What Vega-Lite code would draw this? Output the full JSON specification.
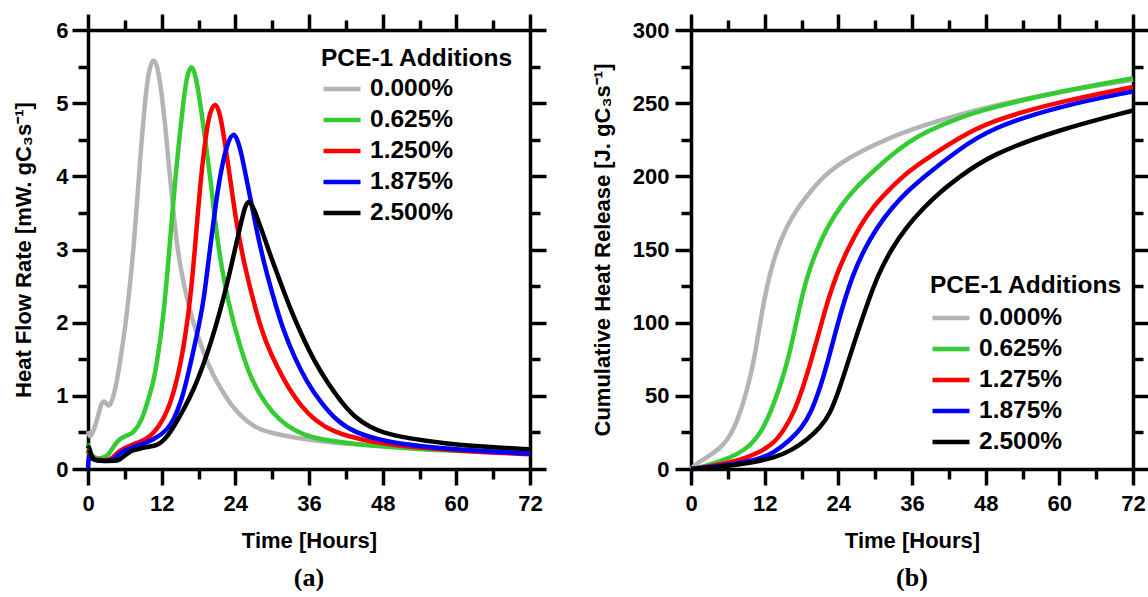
{
  "$schema": "https://vega.github.io/schema/vega-lite/v6.json",
  "padding": {"left": 12, "top": 12, "right": 0, "bottom": 0},
  "config": {
    "font": "Liberation Sans",
    "view": {"stroke": null},
    "axis": {
      "grid": false,
      "domainColor": "#000",
      "domainWidth": 3.5,
      "tickColor": "#000",
      "tickWidth": 3.5,
      "labelColor": "#000",
      "titleColor": "#000",
      "labelFont": "Liberation Sans",
      "labelFontSize": 22,
      "labelFontWeight": "bold",
      "titleFont": "Liberation Sans",
      "titleFontSize": 22,
      "titleFontWeight": "bold",
      "labelFlush": false,
      "labelOverlap": false,
      "labelBound": false
    },
    "legend": {
      "titleFont": "Liberation Sans",
      "labelFont": "Liberation Sans",
      "titleFontSize": 24.5,
      "labelFontSize": 24.5,
      "titleFontWeight": "bold",
      "labelFontWeight": "bold",
      "titleColor": "#000",
      "labelColor": "#000",
      "titleLimit": 400,
      "symbolType": "stroke",
      "symbolSize": 1369,
      "symbolStrokeWidth": 4.5,
      "clipHeight": 31,
      "rowPadding": 0,
      "titlePadding": 2,
      "labelOffset": 7,
      "padding": 0
    }
  },
  "datasets": {
    "hf": [
      {"s":"0.000%","t":0,"v":0.52},{"s":"0.000%","t":0.3,"v":0.42},{"s":"0.000%","t":0.8,"v":0.5},{"s":"0.000%","t":1.5,"v":0.67},{"s":"0.000%","t":2.1,"v":0.89},{"s":"0.000%","t":2.6,"v":0.94},{"s":"0.000%","t":3.1,"v":0.88},{"s":"0.000%","t":3.5,"v":0.85},{"s":"0.000%","t":4.1,"v":0.97},{"s":"0.000%","t":4.7,"v":1.2},{"s":"0.000%","t":5.2,"v":1.45},{"s":"0.000%","t":5.9,"v":1.85},{"s":"0.000%","t":6.3,"v":2.1},{"s":"0.000%","t":7.0,"v":2.65},{"s":"0.000%","t":7.4,"v":3.0},{"s":"0.000%","t":8.0,"v":3.65},{"s":"0.000%","t":8.5,"v":4.25},{"s":"0.000%","t":9.2,"v":4.95},{"s":"0.000%","t":9.8,"v":5.42},{"s":"0.000%","t":10.7,"v":5.66},{"s":"0.000%","t":11.5,"v":5.44},{"s":"0.000%","t":12.2,"v":5.0},{"s":"0.000%","t":12.8,"v":4.5},{"s":"0.000%","t":13.4,"v":3.95},{"s":"0.000%","t":14.0,"v":3.45},{"s":"0.000%","t":14.5,"v":3.05},{"s":"0.000%","t":15.3,"v":2.65},{"s":"0.000%","t":16.2,"v":2.3},{"s":"0.000%","t":17.2,"v":1.98},{"s":"0.000%","t":18.3,"v":1.72},{"s":"0.000%","t":19.6,"v":1.42},{"s":"0.000%","t":21.1,"v":1.17},{"s":"0.000%","t":22.9,"v":0.92},{"s":"0.000%","t":24.9,"v":0.72},{"s":"0.000%","t":27,"v":0.58},{"s":"0.000%","t":29.2,"v":0.5},{"s":"0.000%","t":34.7,"v":0.41},{"s":"0.000%","t":40,"v":0.36},{"s":"0.000%","t":44.5,"v":0.33},{"s":"0.000%","t":54,"v":0.29},{"s":"0.000%","t":63,"v":0.27},{"s":"0.000%","t":72,"v":0.25},
      {"s":"0.625%","t":0,"v":0.35},{"s":"0.625%","t":0.3,"v":0.22},{"s":"0.625%","t":1,"v":0.15},{"s":"0.625%","t":2,"v":0.14},{"s":"0.625%","t":3.1,"v":0.17},{"s":"0.625%","t":3.6,"v":0.23},{"s":"0.625%","t":4.1,"v":0.3},{"s":"0.625%","t":5.0,"v":0.4},{"s":"0.625%","t":5.8,"v":0.44},{"s":"0.625%","t":6.7,"v":0.47},{"s":"0.625%","t":7.4,"v":0.5},{"s":"0.625%","t":8.3,"v":0.6},{"s":"0.625%","t":9.1,"v":0.75},{"s":"0.625%","t":10.0,"v":1.0},{"s":"0.625%","t":10.7,"v":1.2},{"s":"0.625%","t":11.5,"v":1.6},{"s":"0.625%","t":12.3,"v":2.1},{"s":"0.625%","t":13.0,"v":2.75},{"s":"0.625%","t":13.7,"v":3.45},{"s":"0.625%","t":14.2,"v":3.95},{"s":"0.625%","t":14.8,"v":4.45},{"s":"0.625%","t":15.5,"v":5.0},{"s":"0.625%","t":16.1,"v":5.37},{"s":"0.625%","t":16.8,"v":5.54},{"s":"0.625%","t":17.5,"v":5.4},{"s":"0.625%","t":18.3,"v":5.0},{"s":"0.625%","t":19.0,"v":4.55},{"s":"0.625%","t":19.9,"v":4.0},{"s":"0.625%","t":20.5,"v":3.55},{"s":"0.625%","t":21.1,"v":3.1},{"s":"0.625%","t":22.7,"v":2.3},{"s":"0.625%","t":24.9,"v":1.63},{"s":"0.625%","t":26.5,"v":1.25},{"s":"0.625%","t":28.1,"v":1.0},{"s":"0.625%","t":30,"v":0.77},{"s":"0.625%","t":32.5,"v":0.58},{"s":"0.625%","t":35,"v":0.47},{"s":"0.625%","t":38,"v":0.4},{"s":"0.625%","t":44.5,"v":0.33},{"s":"0.625%","t":54,"v":0.27},{"s":"0.625%","t":63,"v":0.24},{"s":"0.625%","t":72,"v":0.22},
      {"s":"1.250%","t":0,"v":0.25},{"s":"1.250%","t":0.3,"v":0.18},{"s":"1.250%","t":1,"v":0.13},{"s":"1.250%","t":2,"v":0.12},{"s":"1.250%","t":3.5,"v":0.12},{"s":"1.250%","t":4.1,"v":0.16},{"s":"1.250%","t":4.7,"v":0.22},{"s":"1.250%","t":5.8,"v":0.28},{"s":"1.250%","t":7.4,"v":0.34},{"s":"1.250%","t":8.7,"v":0.38},{"s":"1.250%","t":10.1,"v":0.44},{"s":"1.250%","t":11.5,"v":0.57},{"s":"1.250%","t":12.9,"v":0.78},{"s":"1.250%","t":14.0,"v":1.05},{"s":"1.250%","t":15.1,"v":1.44},{"s":"1.250%","t":16.0,"v":1.9},{"s":"1.250%","t":16.7,"v":2.35},{"s":"1.250%","t":17.3,"v":2.9},{"s":"1.250%","t":17.8,"v":3.4},{"s":"1.250%","t":18.3,"v":3.9},{"s":"1.250%","t":18.9,"v":4.35},{"s":"1.250%","t":19.6,"v":4.82},{"s":"1.250%","t":20.7,"v":5.05},{"s":"1.250%","t":21.6,"v":4.84},{"s":"1.250%","t":22.4,"v":4.4},{"s":"1.250%","t":23.2,"v":3.95},{"s":"1.250%","t":24.0,"v":3.45},{"s":"1.250%","t":25.4,"v":2.8},{"s":"1.250%","t":27.6,"v":2.08},{"s":"1.250%","t":29,"v":1.72},{"s":"1.250%","t":30.9,"v":1.38},{"s":"1.250%","t":32.7,"v":1.1},{"s":"1.250%","t":34.7,"v":0.86},{"s":"1.250%","t":37,"v":0.66},{"s":"1.250%","t":40.1,"v":0.5},{"s":"1.250%","t":44.5,"v":0.4},{"s":"1.250%","t":50,"v":0.32},{"s":"1.250%","t":60,"v":0.25},{"s":"1.250%","t":72,"v":0.2},
      {"s":"1.875%","t":0,"v":0.02},{"s":"1.875%","t":0.15,"v":0.2},{"s":"1.875%","t":0.5,"v":0.15},{"s":"1.875%","t":1,"v":0.12},{"s":"1.875%","t":2,"v":0.11},{"s":"1.875%","t":3.8,"v":0.11},{"s":"1.875%","t":4.4,"v":0.15},{"s":"1.875%","t":5,"v":0.2},{"s":"1.875%","t":5.8,"v":0.25},{"s":"1.875%","t":7,"v":0.29},{"s":"1.875%","t":8.5,"v":0.33},{"s":"1.875%","t":10.7,"v":0.4},{"s":"1.875%","t":12.9,"v":0.53},{"s":"1.875%","t":14.0,"v":0.68},{"s":"1.875%","t":15.1,"v":0.9},{"s":"1.875%","t":16.2,"v":1.25},{"s":"1.875%","t":17.2,"v":1.63},{"s":"1.875%","t":18.1,"v":1.97},{"s":"1.875%","t":18.9,"v":2.33},{"s":"1.875%","t":19.7,"v":2.9},{"s":"1.875%","t":20.5,"v":3.42},{"s":"1.875%","t":21.2,"v":3.85},{"s":"1.875%","t":21.9,"v":4.17},{"s":"1.875%","t":22.7,"v":4.45},{"s":"1.875%","t":23.7,"v":4.62},{"s":"1.875%","t":24.5,"v":4.47},{"s":"1.875%","t":25.0,"v":4.3},{"s":"1.875%","t":25.5,"v":4.1},{"s":"1.875%","t":26.5,"v":3.68},{"s":"1.875%","t":28.1,"v":2.99},{"s":"1.875%","t":30.3,"v":2.31},{"s":"1.875%","t":31.8,"v":1.9},{"s":"1.875%","t":33.6,"v":1.53},{"s":"1.875%","t":35.7,"v":1.18},{"s":"1.875%","t":38,"v":0.9},{"s":"1.875%","t":40.5,"v":0.66},{"s":"1.875%","t":43.4,"v":0.5},{"s":"1.875%","t":48,"v":0.38},{"s":"1.875%","t":55,"v":0.3},{"s":"1.875%","t":63,"v":0.25},{"s":"1.875%","t":72,"v":0.21},
      {"s":"2.500%","t":0,"v":0.28},{"s":"2.500%","t":0.15,"v":0.32},{"s":"2.500%","t":0.5,"v":0.18},{"s":"2.500%","t":1,"v":0.12},{"s":"2.500%","t":2,"v":0.11},{"s":"2.500%","t":4.5,"v":0.11},{"s":"2.500%","t":5.0,"v":0.12},{"s":"2.500%","t":5.8,"v":0.17},{"s":"2.500%","t":6.5,"v":0.22},{"s":"2.500%","t":7.4,"v":0.26},{"s":"2.500%","t":8.5,"v":0.28},{"s":"2.500%","t":9.6,"v":0.3},{"s":"2.500%","t":11.0,"v":0.32},{"s":"2.500%","t":11.8,"v":0.35},{"s":"2.500%","t":13.0,"v":0.45},{"s":"2.500%","t":14.0,"v":0.58},{"s":"2.500%","t":15.5,"v":0.8},{"s":"2.500%","t":17.2,"v":1.08},{"s":"2.500%","t":18.6,"v":1.38},{"s":"2.500%","t":20.0,"v":1.72},{"s":"2.500%","t":21.4,"v":2.12},{"s":"2.500%","t":22.7,"v":2.54},{"s":"2.500%","t":23.8,"v":2.95},{"s":"2.500%","t":24.8,"v":3.32},{"s":"2.500%","t":25.6,"v":3.6},{"s":"2.500%","t":26.2,"v":3.68},{"s":"2.500%","t":27.0,"v":3.57},{"s":"2.500%","t":28.0,"v":3.33},{"s":"2.500%","t":28.7,"v":3.17},{"s":"2.500%","t":30.0,"v":2.85},{"s":"2.500%","t":31.4,"v":2.54},{"s":"2.500%","t":33,"v":2.18},{"s":"2.500%","t":34.7,"v":1.85},{"s":"2.500%","t":37,"v":1.45},{"s":"2.500%","t":39.1,"v":1.17},{"s":"2.500%","t":41.2,"v":0.92},{"s":"2.500%","t":43.4,"v":0.71},{"s":"2.500%","t":46,"v":0.57},{"s":"2.500%","t":48,"v":0.5},{"s":"2.500%","t":52,"v":0.42},{"s":"2.500%","t":58,"v":0.35},{"s":"2.500%","t":65,"v":0.3},{"s":"2.500%","t":72,"v":0.27}
    ],
    "ch": [
      {"s":"0.000%","t":0,"v":0},{"s":"0.000%","t":0.9,"v":3.9},{"s":"0.000%","t":3,"v":9},{"s":"0.000%","t":5.3,"v":16},{"s":"0.000%","t":6.7,"v":25},{"s":"0.000%","t":8.0,"v":38},{"s":"0.000%","t":9.2,"v":55},{"s":"0.000%","t":10.2,"v":73},{"s":"0.000%","t":11.0,"v":93},{"s":"0.000%","t":11.8,"v":113},{"s":"0.000%","t":12.8,"v":133},{"s":"0.000%","t":14.0,"v":150},{"s":"0.000%","t":15.5,"v":165},{"s":"0.000%","t":17.3,"v":178},{"s":"0.000%","t":19.5,"v":190},{"s":"0.000%","t":21.6,"v":200},{"s":"0.000%","t":24,"v":208},{"s":"0.000%","t":27.1,"v":216},{"s":"0.000%","t":32.6,"v":227},{"s":"0.000%","t":38,"v":235},{"s":"0.000%","t":43.5,"v":242},{"s":"0.000%","t":48.9,"v":248},{"s":"0.000%","t":60,"v":258},{"s":"0.000%","t":72,"v":266},
      {"s":"0.625%","t":0,"v":0},{"s":"0.625%","t":2,"v":1.5},{"s":"0.625%","t":5.3,"v":6},{"s":"0.625%","t":7.5,"v":10},{"s":"0.625%","t":9.7,"v":16},{"s":"0.625%","t":11.4,"v":25},{"s":"0.625%","t":12.9,"v":38},{"s":"0.625%","t":14.4,"v":55},{"s":"0.625%","t":15.7,"v":73},{"s":"0.625%","t":16.8,"v":93},{"s":"0.625%","t":17.8,"v":113},{"s":"0.625%","t":19.0,"v":133},{"s":"0.625%","t":20.6,"v":151},{"s":"0.625%","t":22.3,"v":166},{"s":"0.625%","t":24.4,"v":180},{"s":"0.625%","t":27,"v":193},{"s":"0.625%","t":29.8,"v":204},{"s":"0.625%","t":32.5,"v":214},{"s":"0.625%","t":35.3,"v":223},{"s":"0.625%","t":38,"v":230},{"s":"0.625%","t":43.5,"v":240},{"s":"0.625%","t":48.9,"v":247},{"s":"0.625%","t":60,"v":258},{"s":"0.625%","t":72,"v":267},
      {"s":"1.275%","t":0,"v":0},{"s":"1.275%","t":3,"v":1.5},{"s":"1.275%","t":8,"v":6},{"s":"1.275%","t":11,"v":11},{"s":"1.275%","t":13.5,"v":17.5},{"s":"1.275%","t":15.2,"v":27},{"s":"1.275%","t":16.7,"v":38},{"s":"1.275%","t":18.2,"v":55},{"s":"1.275%","t":19.5,"v":73},{"s":"1.275%","t":20.9,"v":94},{"s":"1.275%","t":22.2,"v":114},{"s":"1.275%","t":23.7,"v":133},{"s":"1.275%","t":25.5,"v":150},{"s":"1.275%","t":27.5,"v":166},{"s":"1.275%","t":29.8,"v":180},{"s":"1.275%","t":32.5,"v":192},{"s":"1.275%","t":35.3,"v":203},{"s":"1.275%","t":38,"v":211},{"s":"1.275%","t":43.5,"v":226},{"s":"1.275%","t":48.9,"v":238},{"s":"1.275%","t":60,"v":251},{"s":"1.275%","t":72,"v":261},
      {"s":"1.875%","t":0,"v":0},{"s":"1.875%","t":4,"v":1.5},{"s":"1.875%","t":10.8,"v":6},{"s":"1.875%","t":13.5,"v":11},{"s":"1.875%","t":16.2,"v":20},{"s":"1.875%","t":18,"v":28},{"s":"1.875%","t":19.5,"v":38},{"s":"1.875%","t":21,"v":55},{"s":"1.875%","t":22.2,"v":72},{"s":"1.875%","t":23.5,"v":93},{"s":"1.875%","t":24.9,"v":114},{"s":"1.875%","t":26.4,"v":133},{"s":"1.875%","t":28.2,"v":150},{"s":"1.875%","t":30.3,"v":165},{"s":"1.875%","t":32.6,"v":178},{"s":"1.875%","t":35.3,"v":190},{"s":"1.875%","t":38,"v":200},{"s":"1.875%","t":43.5,"v":218},{"s":"1.875%","t":48.9,"v":233},{"s":"1.875%","t":60,"v":248},{"s":"1.875%","t":72,"v":258},
      {"s":"2.500%","t":0,"v":0},{"s":"2.500%","t":5,"v":1.5},{"s":"2.500%","t":10,"v":4.5},{"s":"2.500%","t":13.5,"v":7.5},{"s":"2.500%","t":16.5,"v":13},{"s":"2.500%","t":18.9,"v":20},{"s":"2.500%","t":21,"v":28},{"s":"2.500%","t":22.7,"v":38},{"s":"2.500%","t":24.2,"v":55},{"s":"2.500%","t":25.5,"v":72},{"s":"2.500%","t":27.1,"v":93},{"s":"2.500%","t":28.8,"v":114},{"s":"2.500%","t":30.5,"v":133},{"s":"2.500%","t":32.6,"v":150},{"s":"2.500%","t":35,"v":165},{"s":"2.500%","t":38,"v":179},{"s":"2.500%","t":40.5,"v":189},{"s":"2.500%","t":43.5,"v":199},{"s":"2.500%","t":48.9,"v":215},{"s":"2.500%","t":60,"v":232},{"s":"2.500%","t":72,"v":245}
    ]
  },
  "hconcat": [
    {
      "width": 442,
      "height": 439,
      "title": {"text": "(a)", "orient": "bottom", "font": "Liberation Serif", "fontSize": 26, "fontWeight": "bold", "color": "#000", "offset": 14},
      "data": {"name": "hf"},
      "layer": [
        {
          "mark": {"type": "line", "strokeWidth": 4.5, "interpolate": "basis"},
          "encoding": {
            "x": {"field": "t", "type": "quantitative", "scale": {"domain": [0, 72], "nice": false},
              "axis": {"orient": "bottom", "title": "Time [Hours]", "values": [0,6,12,18,24,30,36,42,48,54,60,66,72],
                "labelExpr": "datum.value % 12 == 0 ? datum.label : ''",
                "tickSize": {"condition": {"test": "datum.value % 12 == 0", "value": 16}, "value": 10},
                "labelPadding": 8, "titlePadding": 16}},
            "y": {"field": "v", "type": "quantitative", "scale": {"domain": [0, 6], "nice": false},
              "axis": {"orient": "left", "title": "Heat Flow Rate [mW. gC₃s⁻¹]", "values": [0,0.5,1,1.5,2,2.5,3,3.5,4,4.5,5,5.5,6],
                "labelExpr": "datum.value % 1 == 0 ? format(datum.value, 'd') : ''",
                "tickSize": {"condition": {"test": "datum.value % 1 == 0", "value": 16}, "value": 10},
                "labelPadding": 4, "titlePadding": 20}},
            "color": {"field": "s", "type": "nominal",
              "scale": {"domain": ["0.000%","0.625%","1.250%","1.875%","2.500%"], "range": ["#b4b4b4","#33cc33","#ff0000","#0000ff","#000000"]},
              "legend": {"title": "PCE-1 Additions", "orient": "top-right", "offset": 17}}
          }
        },
        {
          "mark": {"type": "line", "opacity": 0},
          "encoding": {
            "x": {"field": "t", "type": "quantitative",
              "axis": {"orient": "top", "title": null, "labels": false, "values": [0,6,12,18,24,30,36,42,48,54,60,66,72],
                "tickSize": {"condition": {"test": "datum.value % 12 == 0", "value": 16}, "value": 10}}},
            "y": {"field": "v", "type": "quantitative",
              "axis": {"orient": "right", "title": null, "labels": false, "values": [0,0.5,1,1.5,2,2.5,3,3.5,4,4.5,5,5.5,6],
                "tickSize": {"condition": {"test": "datum.value % 1 == 0", "value": 16}, "value": 10}}},
            "detail": {"field": "s", "type": "nominal"}
          }
        }
      ],
      "resolve": {"axis": {"x": "independent", "y": "independent"}}
    },
    {
      "width": 442,
      "height": 439,
      "title": {"text": "(b)", "orient": "bottom", "font": "Liberation Serif", "fontSize": 26, "fontWeight": "bold", "color": "#000", "offset": 14},
      "data": {"name": "ch"},
      "layer": [
        {
          "mark": {"type": "line", "strokeWidth": 4.5, "interpolate": "basis"},
          "encoding": {
            "x": {"field": "t", "type": "quantitative", "scale": {"domain": [0, 72], "nice": false},
              "axis": {"orient": "bottom", "title": "Time [Hours]", "values": [0,6,12,18,24,30,36,42,48,54,60,66,72],
                "labelExpr": "datum.value % 12 == 0 ? datum.label : ''",
                "tickSize": {"condition": {"test": "datum.value % 12 == 0", "value": 16}, "value": 10},
                "labelPadding": 8, "titlePadding": 16}},
            "y": {"field": "v", "type": "quantitative", "scale": {"domain": [0, 300], "nice": false},
              "axis": {"orient": "left", "title": "Cumulative Heat Release [J. gC₃s⁻¹]", "values": [0,25,50,75,100,125,150,175,200,225,250,275,300],
                "labelExpr": "datum.value % 50 == 0 ? datum.label : ''",
                "tickSize": {"condition": {"test": "datum.value % 50 == 0", "value": 16}, "value": 10},
                "labelPadding": 6, "titlePadding": 18}},
            "color": {"field": "s", "type": "nominal",
              "scale": {"domain": ["0.000%","0.625%","1.275%","1.875%","2.500%"], "range": ["#b4b4b4","#33cc33","#ff0000","#0000ff","#000000"]},
              "legend": {"title": "PCE-1 Additions", "orient": "bottom-right", "offset": 11, "titlePadding": 4}}
          }
        },
        {
          "mark": {"type": "line", "opacity": 0},
          "encoding": {
            "x": {"field": "t", "type": "quantitative",
              "axis": {"orient": "top", "title": null, "labels": false, "values": [0,6,12,18,24,30,36,42,48,54,60,66,72],
                "tickSize": {"condition": {"test": "datum.value % 12 == 0", "value": 16}, "value": 10}}},
            "y": {"field": "v", "type": "quantitative",
              "axis": {"orient": "right", "title": null, "labels": false, "values": [0,25,50,75,100,125,150,175,200,225,250,275,300],
                "tickSize": {"condition": {"test": "datum.value % 50 == 0", "value": 16}, "value": 10}}},
            "detail": {"field": "s", "type": "nominal"}
          }
        }
      ],
      "resolve": {"axis": {"x": "independent", "y": "independent"}}
    }
  ],
  "spacing": 43,
  "resolve": {"scale": {"color": "independent"}}
}
